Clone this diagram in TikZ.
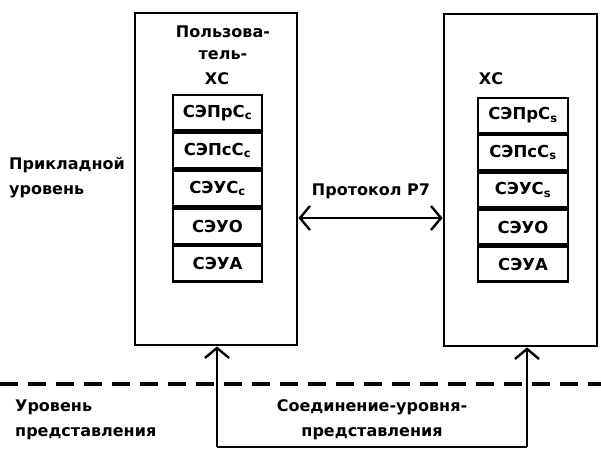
\documentclass[tikz,border=0pt]{standalone}
\usepackage{fontspec}
\setmainfont{DejaVu Sans}
\usetikzlibrary{arrows.meta}
\begin{document}
\begin{tikzpicture}[x=1pt,y=-1pt,
  txt/.style={font=\fontsize{16}{18}\selectfont\bfseries, inner sep=0pt},
  bigbox/.style={draw, line width=2.8pt, inner sep=0pt},
  cell/.style={draw, line width=2.4pt, inner sep=0pt, minimum width=89pt, minimum height=35.4pt, font=\fontsize{16.5}{18}\selectfont\bfseries},
  rcell/.style={cell, minimum width=90pt, minimum height=34.8pt},
  conn/.style={line width=2.4pt},
  tip/.style={Straight Barb[length=10pt,width=24pt,line width=2.4pt]},
  arr/.style={line width=2.4pt, -{Straight Barb[length=10pt,width=24pt,line width=2.4pt]}},
  darr/.style={line width=2.4pt, {Straight Barb[length=10pt,width=24pt,line width=2.4pt]}-{Straight Barb[length=10pt,width=24pt,line width=2.4pt]}},
  level/.style={line width=3.2pt, dash pattern=on 18pt off 10pt}
]
\useasboundingbox (0,0) rectangle (601,449);
% big boxes
\node[bigbox, minimum width=162pt, minimum height=332pt] (L) at (216,179) {};
\node[bigbox, minimum width=153pt, minimum height=332pt] (R) at (520.5,180) {};
% left labels
\node[txt] (l1) at (223,32) {Пользова-};
\node[txt] (l2) at (223,55) {тель-};
\node[txt] (l3) at (217,79) {ХС};
\node[txt] (r1) at (491,79) {ХС};
% left stack
\node[cell] (a1) at (217.5,112.7) {СЭПрС\textsubscript{с}};
\node[cell, anchor=north] (a2) at (a1.south) {СЭПсС\textsubscript{с}};
\node[cell, anchor=north] (a3) at (a2.south) {СЭУС\textsubscript{с}};
\node[cell, anchor=north] (a4) at (a3.south) {СЭУО};
\node[cell, anchor=north] (a5) at (a4.south) {СЭУА};
% right stack
\node[rcell] (b1) at (523,115.4) {СЭПрС\textsubscript{s}};
\node[rcell, anchor=north] (b2) at (b1.south) {СЭПсС\textsubscript{s}};
\node[rcell, anchor=north] (b3) at (b2.south) {СЭУС\textsubscript{s}};
\node[rcell, anchor=north] (b4) at (b3.south) {СЭУО};
\node[rcell, anchor=north] (b5) at (b4.south) {СЭУА};
% level labels
\node[txt, anchor=west] (p1) at (9,165) {Прикладной};
\node[txt, anchor=west] (p2) at (9,192) {уровень};
\node[txt, anchor=west] (u1) at (15,407) {Уровень};
\node[txt, anchor=west] (u2) at (15,434) {представления};
\node[txt] (pr) at (371,191) {Протокол Р7};
\node[txt] (s1) at (372,407) {Соединение-уровня-};
\node[txt] (s2) at (372,434) {представления};
% protocol arrow
\coordinate (pa) at (297,218);
\draw[darr] (L.east |- pa) -- (R.west |- pa);
% level dashed line
\coordinate (d1) at (0,384);
\coordinate (d2) at (601,384);
\draw[level] (d1) -- (d2);
% presentation connection
\coordinate (bl) at (217,447);
\coordinate (br) at (527,447);
\draw[conn] (bl) -- (br);
\draw[arr] (bl) -- (bl |- L.south);
\draw[arr] (br) -- (br |- R.south);
\end{tikzpicture}
\end{document}
